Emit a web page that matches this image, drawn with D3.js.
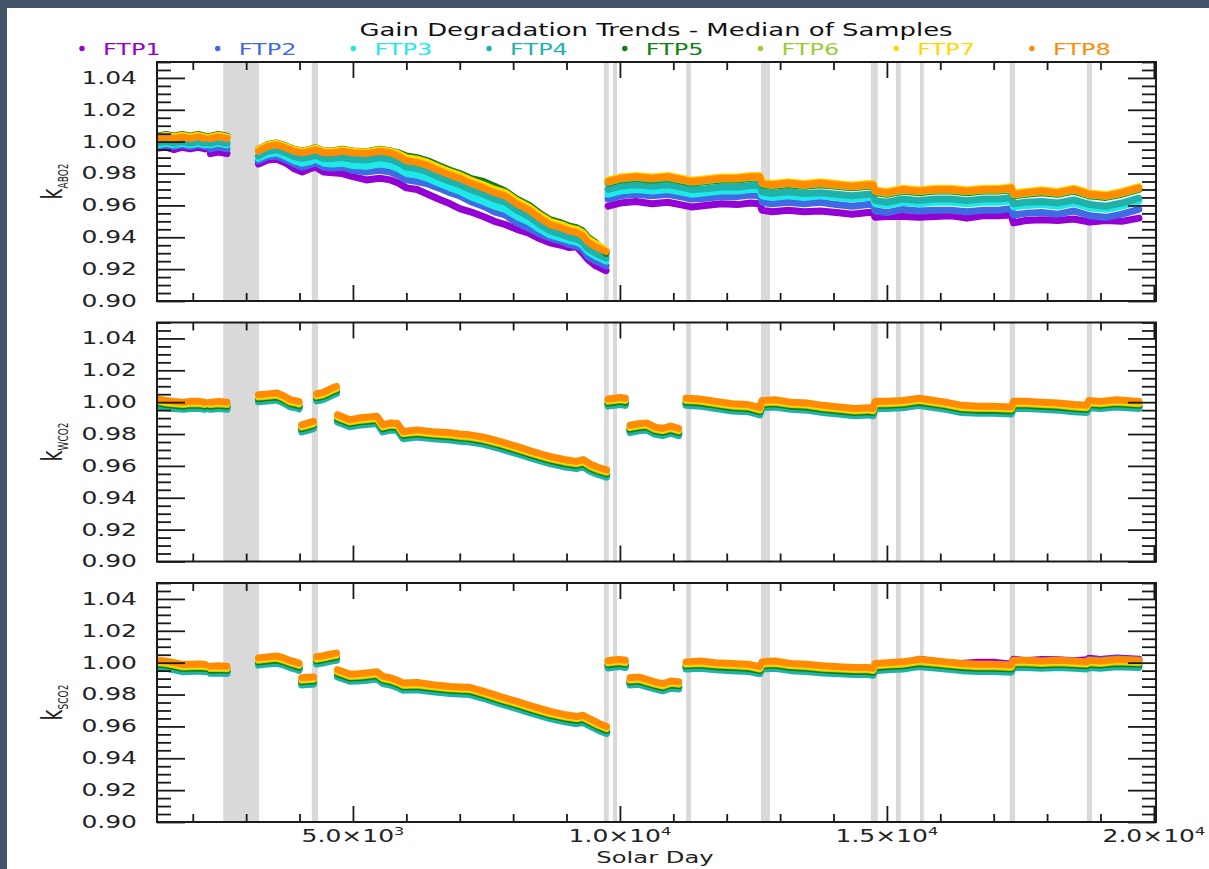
<!DOCTYPE html>
<html>
<head>
<meta charset="utf-8">
<script src="https://cdn.jsdelivr.net/npm/d3@7/dist/d3.min.js"></script>
<style>
  body { margin: 0; background: #435369; }
  svg { display: block; }
  text { font-family: "DejaVu Sans", sans-serif; }
</style>
</head>
<body>
<svg id="chart" width="1209" height="869"></svg>
<script>
// ---- series metadata ----
const ftpNames  = ["FTP1", "FTP2", "FTP3", "FTP4", "FTP5", "FTP6", "FTP7", "FTP8"];
const ftpColors = ["#9400d3", "#4169e1", "#1de9e9", "#20b2aa", "#108010", "#9acd32", "#ffd700", "#ff8c00"];

// ---- axis ticks ----
const yTickValues = [0.90, 0.92, 0.94, 0.96, 0.98, 1.00, 1.02, 1.04];
const xTickValues = [5000, 10000, 15000, 20000];

// ---- periods without calibration (solar day spans) ----
const outageSpans = [
  [2570, 3240], [4230, 4345], [9700, 9790], [9870, 9945], [11240, 11330],
  [12640, 12810], [14700, 14830], [15170, 15260], [15620, 15690],
  [17300, 17400], [18745, 18840]
];

// ---- k_ABO2 : median gain per footprint (null = no data) ----
const daysABO2 = [
  1340,1500,1650,1800,1950,2100,2230,2280, 2330,2480,2640,2900,
  3230,3400,3575,3750,3900,4050,4200,4300,4450,4620,4800,5000,5250,5500,5700,5850,6000,6200,6400,6600,6820,7000,7200,7440,7650,7850,8070,8300,8500,8690,8900,9050,9190,9300,9400,9550,9740,9760,
  9780,10000,10300,10600,10900,11200,11350,11600,11900,12200,12450,12620,12660,12850,13150,13450,13750,14050,14350,14650,14740,14780,15000,15300,15600,15900,16200,16500,16800,17100,17330,17370,17600,17900,18200,18500,18800,19100,19400,19720
];
const kABO2 = [
  [.996,.9965,.995,.9965,.9955,.9965,.9955,null, .9925,.9935,.9925,null,
   .986,.9885,.989,.9865,.983,.981,.983,.984,.981,.9805,.980,.978,.976,.977,.976,.974,.971,.970,.967,.964,.961,.958,.956,.953,.950,.948,.945,.9425,.939,.9365,.935,.9335,.934,.930,.926,.922,.919,null,
   .9595,.9615,.9625,.961,.962,.960,.959,.960,.961,.9605,.9615,.961,.957,.956,.957,.956,.9565,.9555,.9545,.9555,.9555,.9525,.953,.953,.9525,.953,.9535,.952,.9535,.9535,.954,.949,.9505,.951,.9505,.9515,.9495,.9505,.950,.952],
  [.997,.998,.997,.998,.997,.998,.997,null, .9955,.9965,.9955,null,
   .988,.9905,.991,.9885,.986,.984,.9855,.987,.984,.9835,.984,.982,.981,.982,.981,.979,.976,.975,.9735,.971,.968,.966,.9625,.9595,.956,.954,.949,.9455,.942,.9395,.9375,.9355,.9345,.9325,.928,.925,.922,null,
   .964,.966,.967,.966,.967,.965,.964,.9645,.9655,.9655,.9665,.966,.962,.961,.962,.961,.962,.9605,.9595,.9605,.9605,.9565,.9555,.9575,.9565,.957,.957,.956,.957,.957,.958,.954,.955,.9555,.9545,.9565,.9535,.9525,.9545,.9575],
  [.998,.999,.998,.999,.998,.999,.998,null, .998,.999,.998,null,
   .9895,.992,.993,.9905,.988,.9865,.9875,.989,.9865,.986,.9865,.985,.9845,.986,.985,.983,.980,.979,.977,.974,.971,.969,.9655,.9625,.9595,.9575,.953,.9495,.945,.9415,.9395,.938,.937,.935,.931,.928,.925,null,
   .967,.969,.970,.969,.970,.968,.967,.968,.969,.969,.970,.970,.966,.965,.966,.965,.966,.965,.964,.965,.965,.961,.960,.962,.961,.962,.962,.961,.962,.962,.963,.959,.960,.9605,.9595,.9615,.9585,.9575,.9595,.9625],
  [.999,1.000,.999,1.000,.999,1.000,.999,null, .999,1.000,.999,null,
   .991,.994,.995,.993,.9905,.9895,.9905,.9915,.9895,.9895,.990,.989,.9885,.990,.989,.987,.984,.983,.981,.978,.975,.973,.970,.967,.964,.962,.957,.953,.948,.944,.942,.940,.939,.937,.933,.930,.927,null,
   .970,.972,.973,.972,.973,.971,.970,.9705,.9715,.9715,.9725,.9725,.9685,.9675,.9685,.9675,.968,.967,.966,.967,.967,.963,.962,.964,.963,.964,.964,.963,.964,.964,.965,.961,.962,.9625,.9615,.9635,.9605,.9595,.9615,.9645],
  [1.0035,1.0045,1.0035,1.0045,1.0035,1.0045,1.0035,null, 1.0035,1.0045,1.0035,null,
   .9952,.9982,.9992,.9972,.9952,.9942,.9952,.9962,.9942,.9942,.9952,.9942,.9937,.9952,.9942,.993,.991,.990,.988,.985,.982,.980,.977,.975,.972,.969,.964,.960,.955,.951,.949,.947,.946,.944,.940,.9365,.930,null,
   .974,.976,.977,.976,.977,.975,.974,.975,.976,.976,.977,.977,.973,.972,.973,.972,.973,.972,.971,.972,.972,.968,.967,.969,.968,.969,.969,.968,.969,.969,.970,.966,.967,.968,.967,.969,.966,.965,.967,.970],
  [1.0025,1.0035,1.0025,1.0035,1.0025,1.0035,1.0025,null, 1.0025,1.0035,1.0025,null,
   .9945,.9975,.9985,.9965,.9945,.9935,.9945,.9955,.9935,.9935,.9945,.9935,.993,.9945,.9935,.992,.9895,.9885,.9865,.9835,.9805,.9785,.9755,.9725,.9695,.9675,.9625,.9585,.9535,.9495,.9475,.9455,.9445,.9425,.9385,.9355,.9315,null,
   .9745,.9765,.9775,.9765,.9775,.9755,.9745,.9755,.9765,.9765,.9775,.9775,.9735,.9725,.9735,.9725,.9735,.9725,.9715,.9725,.9725,.9685,.9675,.9695,.9685,.9695,.9695,.9685,.9695,.9695,.9705,.9665,.9675,.9685,.9675,.9695,.9665,.9655,.9675,.9705],
  [1.003,1.004,1.003,1.004,1.003,1.004,1.003,null, 1.003,1.004,1.003,null,
   .995,.998,.999,.997,.995,.994,.995,.996,.994,.994,.995,.994,.9935,.995,.994,.9925,.990,.989,.987,.984,.981,.979,.976,.973,.970,.968,.963,.959,.954,.950,.948,.946,.945,.943,.939,.936,.932,null,
   .9758,.9778,.9788,.9778,.9788,.9768,.9758,.9768,.9778,.9778,.9788,.9788,.9748,.9738,.9748,.9738,.9748,.9738,.9728,.9738,.9738,.9698,.9688,.9708,.9698,.9708,.9708,.9698,.9708,.9708,.9718,.9678,.9688,.9698,.9688,.9708,.9678,.9668,.9688,.9718],
  [1.002,1.003,1.002,1.003,1.002,1.003,1.002,null, 1.002,1.003,1.002,null,
   .994,.997,.998,.996,.994,.993,.994,.995,.993,.993,.994,.993,.9925,.994,.993,.991,.988,.987,.985,.982,.979,.977,.974,.971,.968,.966,.961,.957,.952,.948,.946,.944,.943,.941,.937,.934,.931,null,
   .975,.977,.978,.977,.978,.976,.975,.976,.977,.977,.978,.978,.974,.973,.974,.973,.974,.973,.972,.973,.973,.969,.968,.970,.969,.970,.970,.969,.970,.970,.971,.967,.968,.969,.968,.970,.967,.966,.968,.971]
];

// ---- k_WCO2 and k_SCO2 share the same observation days ----
const daysCO2 = [
  1340,1500,1650,1820,1950,2130,2230,2280,
  2330,2480,2640,2900,
  3230,3400,3575,3700,3820,3920,3990,4010,
  4040,4150,4260,4290,
  4320,4430,4530,4620,4690,4700,
  4710,4940,5100,5250,5450,5560,5700,5830,5940,6200,6500,6820,7000,7190,7450,7750,8070,8370,8690,8950,9190,9310,9450,9600,9750,9760,
  9780,9900,10000,10100,10150,
  10190,10350,10500,10650,10800,10950,11100,11200,
  11240,11500,11800,12100,12400,12620,12660,12900,13200,13500,13800,14100,14400,14650,14740,14780,15000,15300,15600,15800,16100,16400,16700,17000,17330,17370,17600,17900,18200,18500,18740,18780,19000,19300,19720
];
const kWCO2 = [
  [.9985,.9975,.997,.9965,.997,.997,.9965,null, .9965,.997,.9965,null,
   1.0012,1.0017,1.0023,1.0005,.9981,.9975,.9968,null, .9823,.9833,.9844,null, 1.0018,1.0025,1.004,1.0055,1.0064,null,
   .9886,.9855,.9865,.987,.9876,.9823,.9835,.9833,.9781,.9791,.978,.9773,.9765,.976,.9745,.9719,.9687,.9655,.9624,.9605,.9593,.9605,.9575,.9555,.954,null,
   .9985,.999,.9995,.999,null, .982,.983,.9835,.981,.980,.9815,.980,null,
   .999,.9985,.997,.9955,.995,.993,.9975,.998,.9965,.996,.9945,.9935,.9925,.993,.9925,.997,.997,.9975,.999,.998,.9965,.9945,.994,.994,.9935,.997,.997,.9965,.996,.995,.9945,.9975,.997,.998,.997],
  [.999,.998,.9975,.997,.9975,.9975,.997,null, .997,.9975,.997,null,
   1.0017,1.0022,1.0028,1.001,.9986,.998,.9973,null, .9828,.9838,.9849,null, 1.0023,1.003,1.0045,1.006,1.0069,null,
   .9891,.986,.987,.9875,.9881,.9828,.984,.9838,.9786,.9796,.9785,.9778,.977,.9765,.975,.9724,.9692,.966,.9629,.961,.9598,.961,.958,.956,.9545,null,
   .999,.9995,1.000,.9995,null, .9825,.9835,.984,.9815,.9805,.982,.9805,null,
   .9995,.999,.9975,.996,.9955,.9935,.998,.9985,.997,.9965,.995,.994,.993,.9935,.993,.9975,.9975,.998,.9995,.9985,.997,.995,.9945,.9945,.994,.9975,.9975,.997,.9965,.9955,.995,.998,.9975,.9985,.9975],
  [.998,.997,.9965,.996,.9965,.9965,.996,null, .996,.9965,.996,null,
   1.0007,1.0012,1.0018,1.000,.9976,.997,.9963,null, .9818,.9828,.9839,null, 1.0013,1.002,1.0035,1.005,1.0059,null,
   .9881,.985,.986,.9865,.9871,.9818,.983,.9828,.9776,.9786,.9775,.9768,.976,.9755,.974,.9714,.9682,.965,.9619,.960,.9588,.960,.957,.955,.9535,null,
   .998,.9985,.999,.9985,null, .9815,.9825,.983,.9805,.9795,.981,.9795,null,
   .9985,.998,.9965,.995,.9945,.9925,.997,.9975,.996,.9955,.994,.993,.992,.9925,.992,.9965,.9965,.997,.9985,.9975,.996,.994,.9935,.9935,.993,.9965,.9965,.996,.9955,.9945,.994,.997,.9965,.9975,.9965],
  [.9975,.9965,.996,.9955,.996,.996,.9955,null, .9955,.996,.9955,null,
   1.0002,1.0007,1.0013,.9995,.9971,.9965,.9958,null, .9813,.9823,.9834,null, 1.0008,1.0015,1.003,1.0045,1.0054,null,
   .9876,.9845,.9855,.986,.9866,.9813,.9825,.9823,.9771,.9781,.977,.9763,.9755,.975,.9735,.9709,.9677,.9645,.9614,.9595,.9583,.9595,.9565,.9545,.953,null,
   .9975,.998,.9985,.998,null, .981,.982,.9825,.980,.979,.9805,.979,null,
   .998,.9975,.996,.9945,.994,.992,.9965,.997,.9955,.995,.9935,.9925,.9915,.992,.9915,.996,.996,.9965,.998,.997,.9955,.9935,.993,.993,.9925,.996,.996,.9955,.995,.994,.9935,.9965,.996,.997,.996],
  [.9995,.9985,.998,.9975,.998,.998,.9975,null, .9975,.998,.9975,null,
   1.0022,1.0027,1.0033,1.0015,.9991,.9985,.9978,null, .9833,.9843,.9854,null, 1.0028,1.0035,1.005,1.0065,1.0074,null,
   .9896,.9865,.9875,.988,.9886,.9833,.9845,.9843,.9791,.9801,.979,.9783,.9775,.977,.9755,.9729,.9697,.9665,.9634,.9615,.9603,.9615,.9585,.9565,.955,null,
   .9995,1.000,1.0005,1.000,null, .983,.984,.9845,.982,.981,.9825,.981,null,
   1.000,.9995,.998,.9965,.996,.994,.9985,.999,.9975,.997,.9955,.9945,.9935,.994,.9935,.998,.998,.9985,1.000,.999,.9975,.9955,.995,.995,.9945,.998,.998,.9975,.997,.996,.9955,.9985,.998,.999,.998],
  [1.0005,.9995,.999,.9985,.999,.999,.9985,null, .9985,.999,.9985,null,
   1.0032,1.0037,1.0043,1.0025,1.0001,.9995,.9988,null, .9843,.9853,.9864,null, 1.0038,1.0045,1.006,1.0075,1.0084,null,
   .9906,.9875,.9885,.989,.9896,.9843,.9855,.9853,.9801,.9811,.980,.9793,.9785,.978,.9765,.9739,.9707,.9675,.9644,.9625,.9613,.9625,.9595,.9575,.956,null,
   1.0005,1.001,1.0015,1.001,null, .984,.985,.9855,.983,.982,.9835,.982,null,
   1.001,1.0005,.999,.9975,.997,.995,.9995,1.000,.9985,.998,.9965,.9955,.9945,.995,.9945,.999,.999,.9995,1.001,1.000,.9985,.9965,.996,.996,.9955,.999,.999,.9985,.998,.997,.9965,.9995,.999,1.000,.999],
  [1.001,1.000,.9995,.999,.9995,.9995,.999,null, .999,.9995,.999,null,
   1.0037,1.0042,1.0048,1.003,1.0006,1.000,.9993,null, .9848,.9858,.9869,null, 1.0043,1.005,1.0065,1.008,1.0089,null,
   .9911,.988,.989,.9895,.9901,.9848,.986,.9858,.9806,.9816,.9805,.9798,.979,.9785,.977,.9744,.9712,.968,.9649,.963,.9618,.963,.960,.958,.9565,null,
   1.001,1.0015,1.002,1.0015,null, .9845,.9855,.986,.9835,.9825,.984,.9825,null,
   1.0015,1.001,.9995,.998,.9975,.9955,1.000,1.0005,.999,.9985,.997,.996,.995,.9955,.995,.9995,.9995,1.000,1.0015,1.0005,.999,.997,.9965,.9965,.996,.9995,.9995,.999,.9985,.9975,.997,1.000,.9995,1.0005,.9995],
  [1.002,1.001,1.0005,1.000,1.0005,1.0005,1.000,null, 1.000,1.0005,1.000,null,
   1.0047,1.0052,1.0058,1.004,1.0016,1.001,1.0003,null, .9858,.9868,.9879,null, 1.0053,1.006,1.0075,1.009,1.0099,null,
   .9921,.989,.990,.9905,.9911,.9858,.987,.9868,.9816,.9826,.9815,.9808,.980,.9795,.978,.9754,.9722,.969,.9659,.964,.9628,.964,.961,.959,.9575,null,
   1.002,1.0025,1.003,1.0025,null, .9855,.9865,.987,.9845,.9835,.985,.9835,null,
   1.0025,1.002,1.0005,.999,.9985,.9965,1.001,1.0015,1.000,.9995,.998,.997,.996,.9965,.996,1.0005,1.0005,1.001,1.0025,1.0015,1.000,.998,.9975,.9975,.997,1.0005,1.0005,1.000,.9995,.9985,.998,1.001,1.0005,1.0015,1.0005]
];
const kSCO2 = [
  [.998,.9975,.9965,.9953,.9955,.9957,.9953,null, .9943,.9945,.9942,null,
   .9995,1.0001,1.0007,.9995,.9979,.997,.9962,null, .987,.9873,.9875,null, 1.0002,1.0007,1.0015,1.0021,1.0025,null,
   .9921,.9893,.9895,.990,.9908,.9879,.987,.9855,.9837,.984,.9827,.9816,.9813,.981,.9785,.9753,.9722,.969,.9659,.964,.9627,.9635,.961,.9585,.9565,null,
   .9977,.9983,.9985,.998,null, .987,.9875,.986,.9845,.9833,.985,.9845,null,
   .997,.9975,.9965,.996,.9955,.994,.997,.9975,.996,.9955,.9945,.994,.9935,.9935,.993,.996,.9968,.9975,1.0022,1.0012,1.000,.9995,1.0003,1.0002,.999,1.0022,1.0012,1.002,1.0018,1.0012,1.0018,1.0028,1.002,1.003,1.0022],
  [.9985,.998,.997,.9958,.996,.9962,.9958,null, .9948,.995,.9947,null,
   1.000,1.0006,1.0012,1.000,.9984,.9975,.9967,null, .9875,.9878,.988,null, 1.0007,1.0012,1.002,1.0026,1.003,null,
   .9926,.9898,.990,.9905,.9913,.9884,.9875,.986,.9842,.9845,.9832,.9821,.9818,.9815,.979,.9758,.9727,.9695,.9664,.9645,.9632,.964,.9615,.959,.957,null,
   .9982,.9988,.999,.9985,null, .9875,.988,.9865,.985,.9838,.9855,.985,null,
   .9975,.998,.997,.9965,.996,.9945,.9975,.998,.9965,.996,.995,.9945,.994,.994,.9935,.9965,.997,.9975,.999,.9985,.9975,.9965,.9965,.997,.9965,1.0005,1.001,1.0005,1.001,1.0008,1.0003,1.0018,1.0015,1.0025,1.0015],
  [.9975,.997,.996,.9948,.995,.9952,.9948,null, .9938,.994,.9937,null,
   .999,.9996,1.0002,.999,.9974,.9965,.9957,null, .9865,.9868,.987,null, .9997,1.0002,1.001,1.0016,1.002,null,
   .9916,.9888,.989,.9895,.9903,.9874,.9865,.985,.9832,.9835,.9822,.9811,.9808,.9805,.978,.9748,.9717,.9685,.9654,.9635,.9622,.963,.9605,.958,.956,null,
   .9972,.9978,.998,.9975,null, .9865,.987,.9855,.984,.9828,.9845,.984,null,
   .9965,.997,.996,.9955,.995,.9935,.9965,.997,.9955,.995,.994,.9935,.993,.993,.9925,.9955,.996,.9965,.998,.9975,.9965,.9955,.995,.995,.9945,.9975,.9975,.997,.9975,.997,.9965,.9975,.997,.998,.9975],
  [.997,.9965,.9955,.9943,.9945,.9947,.9943,null, .9933,.9935,.9932,null,
   .9985,.9991,.9997,.9985,.9969,.996,.9952,null, .986,.9863,.9865,null, .9992,.9997,1.0005,1.0011,1.0015,null,
   .9911,.9883,.9885,.989,.9898,.9869,.986,.9845,.9827,.983,.9817,.9806,.9803,.980,.9775,.9743,.9712,.968,.9649,.963,.9617,.9625,.960,.9575,.9555,null,
   .9967,.9973,.9975,.997,null, .986,.9865,.985,.9835,.9823,.984,.9835,null,
   .996,.9965,.9955,.995,.9945,.993,.996,.9965,.995,.9945,.9935,.993,.9925,.9925,.992,.995,.9955,.996,.9975,.997,.996,.995,.9945,.9945,.994,.997,.997,.9965,.997,.9965,.996,.997,.9965,.9975,.997],
  [.999,.9985,.9975,.9963,.9965,.9967,.9963,null, .9953,.9955,.9952,null,
   1.0005,1.0011,1.0017,1.0005,.9989,.998,.9972,null, .988,.9883,.9885,null, 1.0012,1.0017,1.0025,1.0031,1.0035,null,
   .9931,.9903,.9905,.991,.9918,.9889,.988,.9865,.9847,.985,.9837,.9826,.9823,.982,.9795,.9763,.9732,.970,.9669,.965,.9637,.9645,.962,.9595,.9575,null,
   .9987,.9993,.9995,.999,null, .988,.9885,.987,.9855,.9843,.986,.9855,null,
   .998,.9985,.9975,.997,.9965,.995,.998,.9985,.997,.9965,.9955,.995,.9945,.9945,.994,.997,.9975,.998,.9995,.999,.998,.997,.9965,.9965,.996,.999,.999,.9985,.999,.9985,.998,.999,.9985,.9995,.999],
  [1.000,.9995,.9985,.9973,.9975,.9977,.9973,null, .9963,.9965,.9962,null,
   1.0015,1.0021,1.0027,1.0015,.9999,.999,.9982,null, .989,.9893,.9895,null, 1.0022,1.0027,1.0035,1.0041,1.0045,null,
   .9941,.9913,.9915,.992,.9928,.9899,.989,.9875,.9857,.986,.9847,.9836,.9833,.983,.9805,.9773,.9742,.971,.9679,.966,.9647,.9655,.963,.9605,.9585,null,
   .9997,1.0003,1.0005,1.000,null, .989,.9895,.988,.9865,.9853,.987,.9865,null,
   .999,.9995,.9985,.998,.9975,.996,.999,.9995,.998,.9975,.9965,.996,.9955,.9955,.995,.998,.9985,.999,1.0005,1.000,.999,.998,.9975,.9975,.997,1.000,1.000,.9995,1.000,.9995,.999,1.000,.9995,1.0005,1.000],
  [1.0005,1.000,.999,.9978,.998,.9982,.9978,null, .9968,.997,.9967,null,
   1.002,1.0026,1.0032,1.002,1.0004,.9995,.9987,null, .9895,.9898,.990,null, 1.0027,1.0032,1.004,1.0046,1.005,null,
   .9946,.9918,.992,.9925,.9933,.9904,.9895,.988,.9862,.9865,.9852,.9841,.9838,.9835,.981,.9778,.9747,.9715,.9684,.9665,.9652,.966,.9635,.961,.959,null,
   1.0002,1.0008,1.001,1.0005,null, .9895,.990,.9885,.987,.9858,.9875,.987,null,
   .9995,1.000,.999,.9985,.998,.9965,.9995,1.000,.9985,.998,.997,.9965,.996,.996,.9955,.9985,.999,.9995,1.001,1.0005,.9995,.9985,.998,.998,.9975,1.0005,1.0005,1.000,1.0005,1.000,.9995,1.0005,1.000,1.001,1.0005],
  [1.0015,1.001,1.000,.9988,.999,.9992,.9988,null, .9978,.998,.9977,null,
   1.003,1.0036,1.0042,1.003,1.0014,1.0005,.9997,null, .9905,.9908,.991,null, 1.0037,1.0042,1.005,1.0056,1.006,null,
   .9956,.9928,.993,.9935,.9943,.9914,.9905,.989,.9872,.9875,.9862,.9851,.9848,.9845,.982,.9788,.9757,.9725,.9694,.9675,.9662,.967,.9645,.962,.960,null,
   1.0012,1.0018,1.002,1.0015,null, .9905,.991,.9895,.988,.9868,.9885,.988,null,
   1.0005,1.001,1.000,.9995,.999,.9975,1.0005,1.001,.9995,.999,.998,.9975,.997,.997,.9965,.9995,1.000,1.0005,1.002,1.0015,1.0005,.9995,.999,.999,.9985,1.0015,1.0015,1.001,1.0015,1.001,1.0005,1.0015,1.001,1.002,1.0015]
];

const panels = [
  { label: "ABO2", days: daysABO2, k: kABO2 },
  { label: "WCO2", days: daysCO2,  k: kWCO2 },
  { label: "SCO2", days: daysCO2,  k: kSCO2 }
];

// ---- layout ----
const SX = 1.47;                 // horizontal stretch of the lettering
const plotLeft = 157, plotRight = 1156;
const panelTops = [62, 322.5, 583];
const panelH = 239;
const ink = "#1a1a1a";

const svg = d3.select("#chart");
svg.append("rect").attr("width", 1209).attr("height", 869).attr("fill", "#435369");
svg.append("rect").attr("x", 7).attr("y", 8).attr("width", 1202).attr("height", 861).attr("fill", "#ffffff");

const x = d3.scaleLinear().domain([1330, 20040]).range([plotLeft, plotRight]);

const yMinor = d3.range(180, 211).filter(i => i % 4 !== 0).map(i => i * 0.005);
const xMinor = d3.range(2, 21).filter(i => i % 5 !== 0).map(i => i * 1000);

function styleTicks(g) {
  g.select(".domain").remove();
  g.selectAll(".tick line").attr("stroke", ink).attr("stroke-width", 1.8);
}

panels.forEach((p, i) => {
  const top = panelTops[i], bottom = top + panelH;
  const y = d3.scaleLinear().domain([0.90, 1.05]).range([bottom, top]);
  const g = svg.append("g");

  const clipId = "panel-clip-" + i;
  svg.append("clipPath").attr("id", clipId)
    .append("rect").attr("x", plotLeft).attr("y", top)
    .attr("width", plotRight - plotLeft).attr("height", panelH);

  const plot = g.append("g").attr("clip-path", `url(#${clipId})`);

  // no-calibration periods
  plot.selectAll("rect.span").data(outageSpans).join("rect")
    .attr("class", "span")
    .attr("x", d => x(d[0])).attr("width", d => x(d[1]) - x(d[0]))
    .attr("y", top).attr("height", panelH)
    .attr("fill", "#d9d9d9");

  // footprint series
  const line = d3.line()
    .defined(d => d.v != null)
    .x(d => x(d.day))
    .y(d => y(d.v));

  p.k.forEach((vals, s) => {
    const pts = vals.map((v, j) => ({ day: p.days[j], v }));
    plot.append("path")
      .attr("d", line(pts))
      .attr("fill", "none")
      .attr("stroke", ftpColors[s])
      .attr("stroke-width", 7)
      .attr("stroke-linejoin", "round")
      .attr("stroke-linecap", "round");
  });

  // left axis with labels
  const gl = g.append("g").attr("transform", `translate(${plotLeft},0)`)
    .call(d3.axisLeft(y).tickValues(yTickValues).tickFormat(d3.format(".2f"))
      .tickSize(-28).tickPadding(20).tickSizeOuter(0));
  styleTicks(gl);
  gl.selectAll(".tick text")
    .attr("font-size", 17).attr("font-family", "DejaVu Sans").attr("fill", "#222")
    .attr("x", -20 / SX).attr("transform", `scale(${SX},1)`);

  const glm = g.append("g").attr("transform", `translate(${plotLeft},0)`)
    .call(d3.axisLeft(y).tickValues(yMinor).tickFormat("").tickSize(-14).tickSizeOuter(0));
  styleTicks(glm);

  // right axis
  const gr = g.append("g").attr("transform", `translate(${plotRight},0)`)
    .call(d3.axisRight(y).tickValues(yTickValues).tickFormat("").tickSize(-28).tickSizeOuter(0));
  styleTicks(gr);
  const grm = g.append("g").attr("transform", `translate(${plotRight},0)`)
    .call(d3.axisRight(y).tickValues(yMinor).tickFormat("").tickSize(-14).tickSizeOuter(0));
  styleTicks(grm);

  // top and bottom axes
  [[top, d3.axisTop], [bottom, d3.axisBottom]].forEach(([yy, axisFn]) => {
    const ga = g.append("g").attr("transform", `translate(0,${yy})`)
      .call(axisFn(x).tickValues(xTickValues).tickFormat("").tickSize(-16).tickSizeOuter(0));
    styleTicks(ga);
    const gam = g.append("g").attr("transform", `translate(0,${yy})`)
      .call(axisFn(x).tickValues(xMinor).tickFormat("").tickSize(-8).tickSizeOuter(0));
    styleTicks(gam);
  });

  // frame
  g.append("rect")
    .attr("x", plotLeft).attr("y", top)
    .attr("width", plotRight - plotLeft).attr("height", panelH)
    .attr("fill", "none").attr("stroke", ink).attr("stroke-width", 2);

  // y title: k with subscript
  const yt = svg.append("text")
    .attr("transform", `translate(62,${(top + bottom) / 2}) rotate(-90) scale(1,1.5)`)
    .attr("text-anchor", "middle").attr("font-size", 19).attr("fill", "#222");
  yt.append("tspan").text("k");
  yt.append("tspan").attr("dy", 4).attr("font-size", 9).text(p.label);

  // x tick labels under the last panel
  if (i === panels.length - 1) {
    xTickValues.forEach(v => {
      const e = Math.floor(Math.log10(v));
      const m = (v / Math.pow(10, e)).toFixed(1);
      const t = svg.append("text")
        .attr("transform", `translate(${x(v)},842) scale(${SX},1)`)
        .attr("text-anchor", "middle").attr("font-size", 17).attr("fill", "#222");
      t.append("tspan").text(`${m}\u00d710`);
      t.append("tspan").attr("dy", -7).attr("font-size", 11).text(e);
    });
    svg.append("text")
      .attr("transform", `translate(655,863) scale(${SX},1)`)
      .attr("text-anchor", "middle").attr("font-size", 16.5).attr("fill", "#222")
      .text("Solar Day");
  }
});

// title
svg.append("text")
  .attr("transform", "translate(656,36) scale(1.44,1)")
  .attr("text-anchor", "middle").attr("font-size", 18).attr("fill", "#111")
  .text("Gain Degradation Trends - Median of Samples");

// legend
const legend = svg.append("g");
ftpNames.forEach((name, i) => {
  const tx = 103 + i * 135.7;
  legend.append("circle").attr("cx", tx - 21).attr("cy", 48.5).attr("r", 2.7).attr("fill", ftpColors[i]);
  legend.append("text")
    .attr("transform", `translate(${tx},54.5) scale(1.6,1)`)
    .attr("font-size", 15).attr("fill", ftpColors[i])
    .text(name);
});
</script>
</body>
</html>
